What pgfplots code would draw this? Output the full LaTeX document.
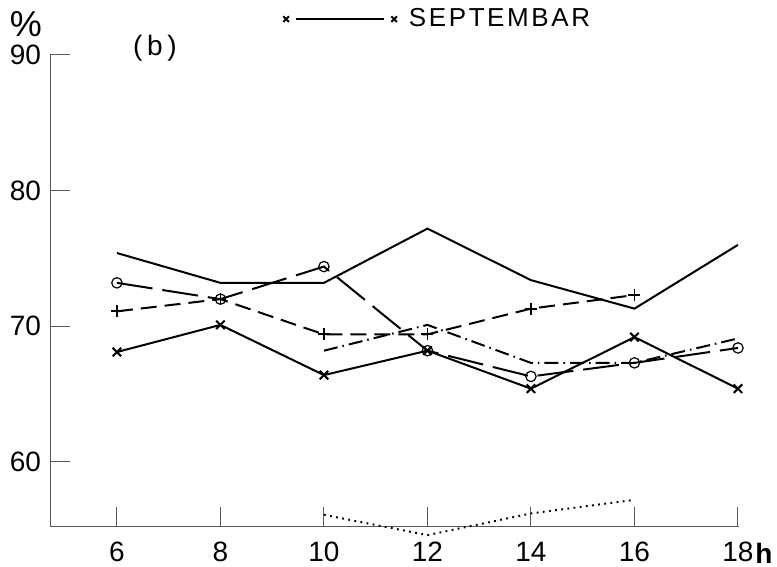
\documentclass[border=0pt]{standalone}
\usepackage{pgfplots}
\pgfplotsset{compat=1.18}
\usepackage{fontspec}
\setmainfont{Liberation Sans}
\begin{document}
\begin{tikzpicture}
\path[use as bounding box] (0,0) rectangle (388.5pt,283.5pt);
\begin{axis}[
  scale only axis, width=344.5pt, height=236pt,
  at={(25pt,20pt)}, anchor=south west,
  xmin=4.707, xmax=18.02, ymin=55.2, ymax=90,
  axis x line=bottom, axis y line=left,
  axis line style={-, black!65, line width=0.5pt},
  xtick={6,8,...,18}, ytick={60,70,80,90},
  tick align=inside, major tick length=10pt,
  tick style={black!65, line width=0.5pt},
  tick label style={font=\fontsize{14}{14}\selectfont},
  /pgf/number format/assume math mode=true,
  xticklabel style={yshift=-4pt},
  yticklabel style={xshift=-1pt},
  clip=false,
  legend style={draw=none, fill=none, at={(0.338,1.076)}, anchor=west, inner sep=0pt,
    font=\fontsize{13}{13}\selectfont\addfontfeature{LetterSpace=10}},
  every axis plot/.append style={line width=1pt, black},
]
% solid, no marks
\addplot[solid, forget plot] coordinates {(6,75.4)(8,73.2)(10,73.2)(12,77.2)(14,73.4)(16,71.3)(18,76.0)};
% long dashed with circles
\addplot[dash pattern=on 18pt off 5pt, mark=o, mark size=2.6pt, mark options={solid, fill=white, line width=0.6pt}, forget plot]
  coordinates {(6,73.2)(8,72.0)(10,74.4)(12,68.2)(14,66.3)(16,67.3)(18,68.4)};
% short dashed with plus
\addplot[dash pattern=on 8pt off 4pt, mark=+, mark size=3pt, mark options={solid, line width=0.9pt}, forget plot]
  coordinates {(6,71.1)(8,72.0)(10,69.4)(12,69.4)(14,71.3)(16,72.3)};
% dash-dot
\addplot[dash pattern=on 7pt off 2.5pt on 0.8pt off 2.5pt, forget plot]
  coordinates {(10,68.2)(12,70.1)(14,67.3)(16,67.3)(18,69.1)};
% dotted
\addplot[dash pattern=on 0.9pt off 2.2pt, forget plot]
  coordinates {(10,56.1)(12,54.6)(14,56.2)(16,57.2)};
% solid with x  (SEPTEMBAR)
\addplot[solid, mark=x, mark size=3pt, mark options={solid, line width=1pt},
  legend image code/.code={
    \draw[black, line width=1pt] (5pt,0pt) -- (49pt,0pt);
    \draw[black, line width=0.7pt, mark=x, mark size=2pt] plot[only marks] coordinates {(0pt,0pt)(54pt,0pt)};
  }]
  coordinates {(6,68.1)(8,70.1)(10,66.4)(12,68.2)(14,65.4)(16,69.2)(18,65.4)};
\addlegendentry{\hspace{4pt}SEPTEMBAR}
\end{axis}
\node[font=\fontsize{18}{18}\selectfont, inner sep=0pt] at (13pt,271.5pt) {\%};
\node[font=\fontsize{14}{14}\selectfont] at (77.5pt,259.5pt) {(\,b\,)};
\node[font=\fontsize{14}{14}\selectfont\bfseries, inner sep=0pt] at (382pt,6.75pt) {h};
\end{tikzpicture}
\end{document}
